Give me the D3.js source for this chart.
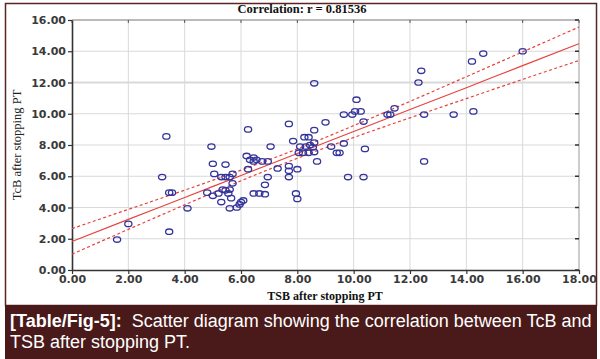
<!DOCTYPE html>
<html><head><meta charset="utf-8">
<script src="https://cdn.jsdelivr.net/npm/d3@7"></script>
<style>body{margin:0;background:#fff}svg{display:block}</style>
</head><body>
<svg id="c" width="600" height="359"></svg>
<script>
// ---- data ----
const tsb = [1.6,2.0,3.45,3.2,3.45,3.55,4.1,3.35,4.95,5.0,5.45,5.05,5.3,5.45,5.6,5.7,5.7,4.8,5.0,5.2,5.35,5.45,5.55,5.6,5.3,5.65,5.6,5.85,5.95,6.0,6.08,6.25,6.2,6.32,6.45,6.45,6.55,6.25,6.45,6.65,6.85,6.85,6.95,6.75,6.95,7.05,7.3,7.7,7.7,7.7,7.95,8.0,8.0,7.7,7.85,8.1,8.3,8.45,8.6,8.55,8.05,8.2,8.4,8.6,8.25,8.4,8.6,8.6,9.0,9.2,9.4,9.5,9.65,8.7,9.8,10.35,10.4,9.65,9.95,10.05,10.25,10.1,10.35,11.2,11.3,11.45,12.3,12.4,12.5,12.5,13.55,14.25,14.2,14.6,16.0];
const tcb = [1.95,2.95,2.45,5.95,4.95,4.95,3.95,8.55,7.9,6.8,6.75,6.15,5.95,5.95,5.95,6.15,5.55,4.95,4.75,4.9,5.15,5.1,4.9,5.15,4.35,4.6,3.95,4.0,4.2,4.35,4.45,9.0,7.3,7.05,7.2,6.95,7.05,6.45,4.9,4.9,4.85,5.45,5.95,6.95,6.95,7.9,6.5,6.65,6.35,5.95,4.9,4.55,6.45,9.35,8.25,7.9,7.9,8.0,8.15,7.85,7.5,7.5,7.5,7.55,8.5,8.5,8.95,11.95,9.45,7.9,7.5,7.5,8.1,6.95,5.95,5.95,7.75,9.95,9.95,10.15,10.15,10.9,9.5,9.95,9.95,10.35,12.0,12.75,9.95,6.95,9.95,10.15,13.35,13.85,14.0];
const fitX = [0,2,4,6,8,10,12,14,16,18];
const fitY = [1.83,3.24,4.64,6.05,7.45,8.86,10.27,11.67,13.08,14.48];
const ciUpper = [2.65,3.88,5.11,6.39,7.75,9.24,10.79,12.37,13.96,15.55];
const ciLower = [1.01,2.60,4.17,5.71,7.15,8.48,9.74,10.97,12.20,13.41];
const xTicks = [0,2,4,6,8,10,12,14,16,18];
const yTicks = [0,2,4,6,8,10,12,14,16];
const title = "Correlation: r = 0.81536";
const xTitle = "TSB after stopping PT";
const yTitle = "TcB after stopping PT";
const captionBold = "[Table/Fig-5]:";
const captionLine1 = "Scatter diagram showing the correlation between TcB and";
const captionLine2 = "TSB after stopping PT.";

// ---- layout ----
const svg = d3.select("#c");
const L = 72, R = 579, T = 20, B = 270;
const x = d3.scaleLinear().domain([0,18]).range([L,R]);
const y = d3.scaleLinear().domain([0,16]).range([B,T]);

// outer frame
svg.append("rect").attr("x",5.5).attr("y",3.5).attr("width",591).attr("height",302)
  .attr("fill","#fff").attr("stroke","#5a2424").attr("stroke-width",1.5);

// grid
const g = svg.append("g");
g.selectAll(".gx").data(xTicks.slice(1,-1)).join("line")
  .attr("x1",d=>x(d)).attr("x2",d=>x(d)).attr("y1",T).attr("y2",B)
  .attr("stroke","#d9d9d9").attr("stroke-width",1);
g.selectAll(".gy").data(yTicks.slice(1,-1)).join("line")
  .attr("x1",L).attr("x2",R).attr("y1",d=>y(d)).attr("y2",d=>y(d))
  .attr("stroke","#d9d9d9").attr("stroke-width",d=>d===12?2.2:1);

// top / right frame
svg.append("line").attr("x1",L).attr("x2",R).attr("y1",T).attr("y2",T).attr("stroke","#777").attr("stroke-width",1);
svg.append("line").attr("x1",R).attr("x2",R).attr("y1",T).attr("y2",B).attr("stroke","#999").attr("stroke-width",1);
svg.selectAll(".rt").data(yTicks).join("line")
  .attr("x1",R-4).attr("x2",R).attr("y1",d=>y(d)).attr("y2",d=>y(d)).attr("stroke","#333").attr("stroke-width",1.5);
svg.selectAll(".tt").data(xTicks).join("line")
  .attr("x1",d=>x(d)).attr("x2",d=>x(d)).attr("y1",T).attr("y2",T+3).attr("stroke","#555").attr("stroke-width",1);

// axes
const fmt = d3.format(".2f");
const xa = svg.append("g").attr("transform",`translate(0,${B})`)
  .call(d3.axisBottom(x).tickValues(xTicks).tickFormat(fmt).tickSize(4).tickSizeOuter(0));
const ya = svg.append("g").attr("transform",`translate(${L},0)`)
  .call(d3.axisLeft(y).tickValues(yTicks).tickFormat(fmt).tickSize(4).tickSizeOuter(0));
[xa,ya].forEach(a=>{
  a.select(".domain").attr("stroke","#333").attr("stroke-width",1.6);
  a.selectAll(".tick line").attr("stroke","#333").attr("stroke-width",1.2);
  a.selectAll(".tick text").attr("font-family","DejaVu Sans, sans-serif").attr("font-size",11)
    .attr("font-weight","bold").attr("fill","#3a3a3a");
});
xa.selectAll(".tick text").attr("y",5);
ya.selectAll(".tick text").attr("x",-6);

// confidence bands and fit
const line = d3.line().x((d,i)=>x(fitX[i])).y(d=>y(d)).curve(d3.curveMonotoneX);
svg.append("path").attr("d",line(ciUpper)).attr("fill","none").attr("stroke","#e8413c").attr("stroke-width",1.2).attr("stroke-dasharray","3,2.5");
svg.append("path").attr("d",line(ciLower)).attr("fill","none").attr("stroke","#e8413c").attr("stroke-width",1.2).attr("stroke-dasharray","3,2.5");
svg.append("path").attr("d",line(fitY)).attr("fill","none").attr("stroke","#e8413c").attr("stroke-width",1.1);

// points
svg.append("g").selectAll("ellipse").data(tsb).join("ellipse")
  .attr("cx",(d)=>x(d)).attr("cy",(d,i)=>y(tcb[i]))
  .attr("rx",3.6).attr("ry",2.7)
  .attr("fill","none").attr("stroke","#34349a").attr("stroke-width",1.3);

// titles
svg.append("text").attr("x",302).attr("y",13).attr("text-anchor","middle")
  .attr("font-family","Liberation Serif, Times New Roman, serif").attr("font-weight","bold").attr("font-size",12.5)
  .attr("fill","#111").text(title);
svg.append("text").attr("x",325).attr("y",300).attr("text-anchor","middle")
  .attr("font-family","Liberation Serif, Times New Roman, serif").attr("font-weight","bold").attr("font-size",12)
  .attr("fill","#111").text(xTitle);
svg.append("text").attr("transform",`translate(21,${(T+B)/2}) rotate(-90)`).attr("text-anchor","middle")
  .attr("font-family","Liberation Serif, Times New Roman, serif").attr("font-size",12.5)
  .attr("fill","#222").text(yTitle);

// caption
svg.append("rect").attr("x",5).attr("y",305).attr("width",592).attr("height",54).attr("fill","#4a1a1a");
const cap = svg.append("text").attr("x",10).attr("y",327)
  .attr("font-family","Liberation Sans Narrow, Arial Narrow, Liberation Sans, sans-serif").attr("font-size",18).attr("fill","#fff");
cap.append("tspan").attr("font-weight","bold").text(captionBold);
cap.append("tspan").text("\u00a0 " + captionLine1);
svg.append("text").attr("x",10).attr("y",348)
  .attr("font-family","Liberation Sans Narrow, Arial Narrow, Liberation Sans, sans-serif").attr("font-size",18).attr("fill","#fff")
  .text(captionLine2);
</script>
</body></html>
